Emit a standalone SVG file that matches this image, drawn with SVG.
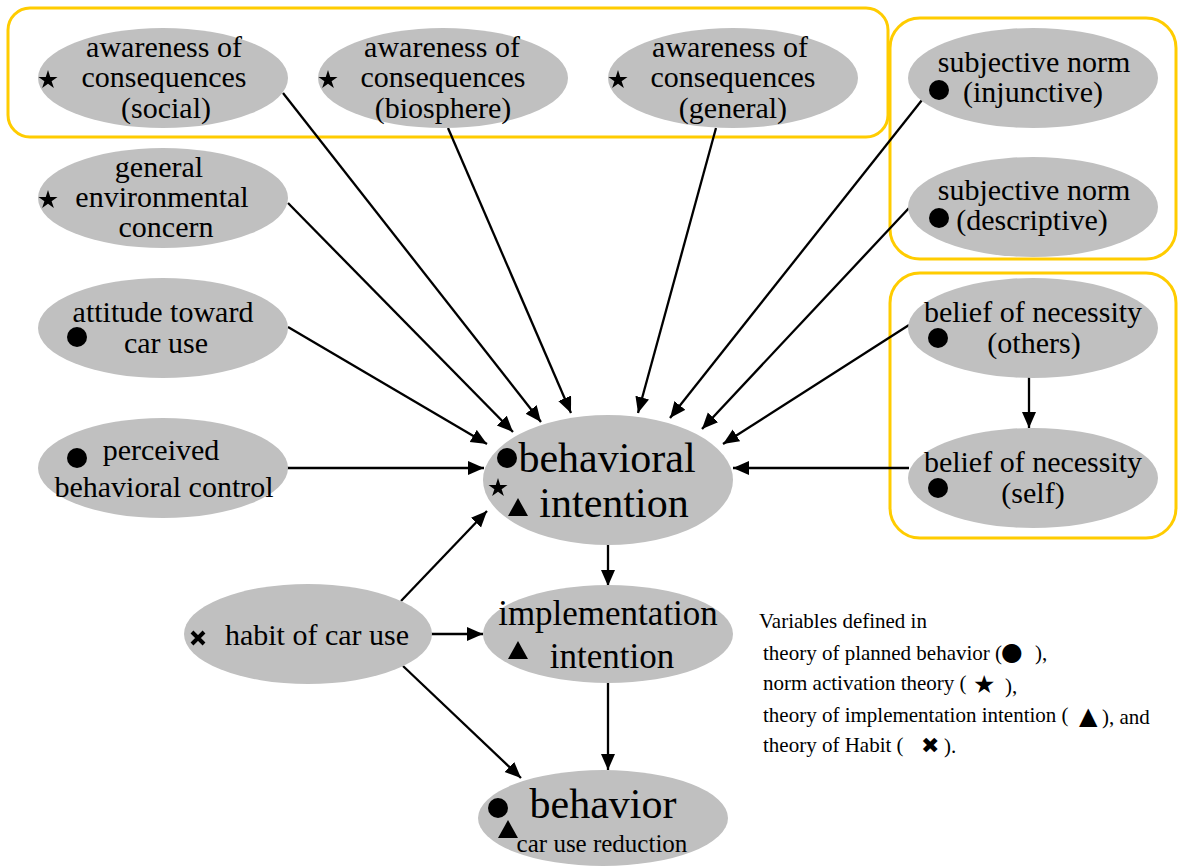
<svg xmlns="http://www.w3.org/2000/svg" width="1178" height="867" viewBox="0 0 1178 867">
<defs>
<style>
.node ellipse{fill:#c0c0c0;}
.t{fill:#000;font-size:30px;text-anchor:middle;}
.big{font-size:42px;}
.grp{fill:none;stroke:#ffcc00;stroke-width:3;}
.edge{stroke:#000;stroke-width:2.3;fill:none;marker-end:url(#ah);}
.leg{font-size:21px;fill:#000;}
</style>
<marker id="ah" markerUnits="userSpaceOnUse" markerWidth="17" markerHeight="15" refX="16" refY="7" orient="auto">
<path d="M0,0 L16,7 L0,14 Z" fill="#000"/>
</marker>
<path id="star" d="M0,-10 L2.25,-3.09 L9.51,-3.09 L3.63,1.18 L5.88,8.09 L0,3.82 L-5.88,8.09 L-3.63,1.18 L-9.51,-3.09 L-2.25,-3.09 Z" fill="#000"/>
<circle id="dot" r="10" fill="#000"/>
<path id="tri" d="M-10,9 L0,-9 L10,9 Z" fill="#000"/>
<path id="cross" d="M-6,-6 L6,6 M6,-6 L-6,6" stroke="#000" stroke-width="4" fill="none"/>
</defs>
<rect width="1178" height="867" fill="#fff"/>

<g id="groups">
<rect class="grp" x="8" y="8" width="880" height="129" rx="22"/>
<rect class="grp" x="890" y="18" width="286" height="241" rx="30"/>
<rect class="grp" x="890" y="273" width="286" height="265" rx="30"/>
</g>

<g id="connectors">
<line class="edge" x1="283" y1="93" x2="541" y2="422"/>
<line class="edge" x1="448" y1="128" x2="571" y2="413"/>
<line class="edge" x1="716" y1="128" x2="638" y2="413"/>
<line class="edge" x1="922" y1="100" x2="670" y2="418"/>
<line class="edge" x1="909" y1="208" x2="702" y2="429"/>
<line class="edge" x1="288" y1="203" x2="513" y2="432"/>
<line class="edge" x1="288" y1="327" x2="487" y2="444"/>
<line class="edge" x1="287" y1="468" x2="484" y2="468"/>
<line class="edge" x1="909" y1="325" x2="723" y2="444"/>
<line class="edge" x1="909" y1="468" x2="733" y2="468"/>
<line class="edge" x1="1029" y1="377" x2="1029" y2="428"/>
<line class="edge" x1="401" y1="601" x2="487" y2="511"/>
<line class="edge" x1="431" y1="634" x2="483" y2="634"/>
<line class="edge" x1="403" y1="666" x2="521" y2="778"/>
<line class="edge" x1="608" y1="545" x2="608" y2="586"/>
<line class="edge" x1="608" y1="683" x2="608" y2="770"/>
</g>

<g font-family="Liberation Serif, Tinos, Times New Roman, DejaVu Serif, serif">

<g id="n_ac_social" class="node">
<ellipse cx="163" cy="78" rx="125" ry="50"/>
<use href="#star" x="48" y="80"/>
<text class="t" x="164" y="57">awareness of</text>
<text class="t" x="164" y="87">consequences</text>
<text class="t" x="166" y="118">(social)</text>
</g>

<g id="n_ac_biosphere" class="node">
<ellipse cx="443" cy="78" rx="125" ry="50"/>
<use href="#star" x="328" y="80"/>
<text class="t" x="442" y="57">awareness of</text>
<text class="t" x="443" y="87">consequences</text>
<text class="t" x="443" y="118">(biosphere)</text>
</g>

<g id="n_ac_general" class="node">
<ellipse cx="733" cy="78" rx="125" ry="50"/>
<use href="#star" x="618" y="80"/>
<text class="t" x="730" y="57">awareness of</text>
<text class="t" x="733" y="87">consequences</text>
<text class="t" x="733" y="118">(general)</text>
</g>

<g id="n_sn_injunctive" class="node">
<ellipse cx="1033" cy="78" rx="125" ry="50"/>
<use href="#dot" x="939" y="90"/>
<text class="t" x="1034" y="72">subjective norm</text>
<text class="t" x="1033" y="102">(injunctive)</text>
</g>

<g id="n_sn_descriptive" class="node">
<ellipse cx="1033" cy="207" rx="125" ry="50"/>
<use href="#dot" x="939" y="218"/>
<text class="t" x="1034" y="200">subjective norm</text>
<text class="t" x="1032" y="230">(descriptive)</text>
</g>

<g id="n_env_concern" class="node">
<ellipse cx="163" cy="198" rx="125" ry="50"/>
<use href="#star" x="48" y="200"/>
<text class="t" x="159" y="177">general</text>
<text class="t" x="162" y="207">environmental</text>
<text class="t" x="166" y="237">concern</text>
</g>

<g id="n_attitude" class="node">
<ellipse cx="163" cy="328" rx="125" ry="50"/>
<use href="#dot" x="77" y="337"/>
<text class="t" x="163" y="322">attitude toward</text>
<text class="t" x="166" y="353">car use</text>
</g>

<g id="n_pbc" class="node">
<ellipse cx="163" cy="468" rx="125" ry="50"/>
<use href="#dot" x="77" y="458"/>
<text class="t" x="161" y="460">perceived</text>
<text class="t" x="164" y="497">behavioral control</text>
</g>

<g id="n_bon_others" class="node">
<ellipse cx="1033" cy="328" rx="125" ry="50"/>
<use href="#dot" x="938" y="338"/>
<text class="t" x="1033" y="322">belief of necessity</text>
<text class="t" x="1034" y="353">(others)</text>
</g>

<g id="n_bon_self" class="node">
<ellipse cx="1033" cy="478" rx="125" ry="50"/>
<use href="#dot" x="938" y="488"/>
<text class="t" x="1033" y="472">belief of necessity</text>
<text class="t" x="1033" y="503">(self)</text>
</g>

<g id="n_bi" class="node">
<ellipse cx="608" cy="480" rx="125" ry="65"/>
<use href="#dot" x="507" y="458"/>
<use href="#star" x="498" y="488"/>
<use href="#tri" x="518" y="507"/>
<text class="t big" x="607" y="472">behavioral</text>
<text class="t big" x="614" y="517">intention</text>
</g>

<g id="n_impl" class="node">
<ellipse cx="608" cy="634" rx="125" ry="49"/>
<use href="#tri" x="518" y="650"/>
<text class="t" style="font-size:35px" x="608" y="625">implementation</text>
<text class="t" style="font-size:35px" x="612" y="668">intention</text>
</g>

<g id="n_habit" class="node">
<ellipse cx="308" cy="634" rx="124" ry="50"/>
<use href="#cross" x="198" y="638"/>
<text class="t" x="317" y="645">habit of car use</text>
</g>

<g id="n_behavior" class="node">
<ellipse cx="603" cy="818" rx="125" ry="48"/>
<use href="#dot" x="498" y="808"/>
<use href="#tri" x="508" y="829"/>
<text class="t big" x="603" y="818">behavior</text>
<text class="t" style="font-size:25px" x="602" y="852">car use reduction</text>
</g>

<g id="legend">
<text class="leg" x="759" y="628">Variables defined in</text>
<text class="leg" y="660"><tspan x="763">theory of planned behavior (</tspan><tspan font-family="DejaVu Sans, sans-serif" x="1001" y="660" style="font-size:25px">●</tspan><tspan x="1035">),</tspan></text>
<text class="leg" y="690"><tspan x="763">norm activation theory (</tspan><tspan font-family="DejaVu Sans, sans-serif" x="973" y="693" style="font-size:25px">★</tspan><tspan x="1005">),</tspan></text>
<text class="leg" y="722"><tspan x="763">theory of implementation intention (</tspan><tspan font-family="DejaVu Sans, sans-serif" x="1079" y="724" style="font-size:24px">▲</tspan><tspan x="1102">), and</tspan></text>
<text class="leg" y="752"><tspan x="763">theory of Habit (</tspan><tspan font-family="DejaVu Sans, sans-serif" x="921" y="753" style="font-size:22px">✖</tspan><tspan x="944">).</tspan></text>
</g>

</g>
</svg>
